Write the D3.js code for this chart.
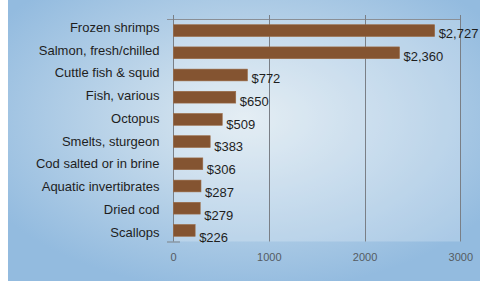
<!DOCTYPE html>
<html>
<head>
<meta charset="utf-8">
<script src="https://d3js.org/d3.v7.min.js"></script>
<style>
  body { margin: 0; background: #fff; }
  svg { display: block; font-family: "Liberation Sans", Arial, sans-serif; }
</style>
</head>
<body>
<script>
// chart data, top to bottom
var categories = ["Frozen shrimps", "Salmon, fresh/chilled", "Cuttle fish & squid",
  "Fish, various", "Octopus", "Smelts, sturgeon", "Cod salted or in brine",
  "Aquatic invertibrates", "Dried cod", "Scallops"];
var values = [2727, 2360, 772, 650, 509, 383, 306, 287, 279, 226];
var xTicks = [0, 1000, 2000, 3000];

var width = 480, height = 282;
var margin = {top: 19.5, right: 19, bottom: 40.5, left: 173};

var data = categories.map(function(c, i) { return {name: c, value: values[i]}; });

var svg = d3.select("body")
  .append("svg")
    .attr("width", width)
    .attr("height", height);

// background gradient
var defs = svg.append("defs");
var grad = defs.append("radialGradient")
    .attr("id", "bg")
    .attr("cx", "50%").attr("cy", "42%").attr("r", "62%");
grad.append("stop").attr("offset", "0%").attr("stop-color", "#dde9f1");
grad.append("stop").attr("offset", "100%").attr("stop-color", "#93bbdf");

svg.append("rect")
    .attr("x", 8).attr("y", 0)
    .attr("width", width - 8).attr("height", height - 1)
    .attr("fill", "url(#bg)");

var x = d3.scaleLinear()
    .domain([0, 3000])
    .range([margin.left, width - margin.right - 0.7]);

var y = d3.scaleBand()
    .domain(categories)
    .range([margin.top, height - margin.bottom])
    .paddingInner(0.47)
    .paddingOuter(0.235);

// the labels sit on a slightly wider pitch than the bars
var labelY = d3.scalePoint()
    .domain(categories)
    .range([27.5, 232]);

// plot area
svg.append("rect")
    .attr("x", x(0))
    .attr("y", margin.top)
    .attr("width", x(3000) - x(0))
    .attr("height", height - margin.bottom - margin.top)
    .attr("fill", "#fff")
    .attr("fill-opacity", 0.22);

// top border
svg.append("line")
    .attr("x1", x(0) - 6).attr("x2", x(3000))
    .attr("y1", margin.top).attr("y2", margin.top)
    .attr("stroke", "#8a8f96");

// bottom tick on the category axis
svg.append("line")
    .attr("x1", x(0) - 6).attr("x2", x(0) + 7)
    .attr("y1", height - margin.bottom + 0.5).attr("y2", height - margin.bottom + 0.5)
    .attr("stroke", "#8a98a6")
    .attr("stroke-width", 1.5);

// vertical grid lines (incl. the category axis at 0)
svg.append("g")
  .selectAll("line.grid")
  .data(xTicks)
  .enter()
  .append("line")
    .attr("class", "grid")
    .attr("x1", function(d) { return Math.round(x(d)) + 0.5; })
    .attr("x2", function(d) { return Math.round(x(d)) + 0.5; })
    .attr("y1", margin.top - 4.5)
    .attr("y2", height - margin.bottom)
    .attr("stroke", "#7a7f86");

// bars
svg.append("g")
  .selectAll("rect.bar")
  .data(data)
  .enter()
  .append("rect")
    .attr("class", "bar")
    .attr("x", x(0) + 0.5)
    .attr("y", function(d) { return y(d.name); })
    .attr("width", function(d) { return x(d.value) - x(0); })
    .attr("height", y.bandwidth())
    .attr("fill", "#845431")
    .attr("stroke", "#9a6a45")
    .attr("stroke-width", 0.6);

// value labels
var fmt = d3.format(",");
svg.append("g")
  .selectAll("text.value")
  .data(data)
  .enter()
  .append("text")
    .attr("class", "value")
    .attr("x", function(d) { return x(d.value) + 4.5; })
    .attr("y", function(d) { return labelY(d.name) + 5.8; })
    .attr("dominant-baseline", "central")
    .attr("font-size", 13)
    .attr("fill", "#1e1e1e")
    .text(function(d) { return "$" + fmt(d.value); });

// category labels
svg.append("g")
  .selectAll("text.cat")
  .data(data)
  .enter()
  .append("text")
    .attr("class", "cat")
    .attr("x", 159.5)
    .attr("y", function(d) { return labelY(d.name); })
    .attr("text-anchor", "end")
    .attr("dominant-baseline", "central")
    .attr("font-size", 13)
    .attr("fill", "#1e1e1e")
    .text(function(d) { return d.name; });

// x axis labels
var xAxis = svg.append("g")
    .attr("transform", "translate(0," + (height - margin.bottom) + ")")
    .call(d3.axisBottom(x).tickValues(xTicks).tickSize(0).tickPadding(12).tickFormat(d3.format("d")));
xAxis.select(".domain").remove();
xAxis.selectAll("text")
    .attr("font-family", "Liberation Sans, Arial, sans-serif")
    .attr("font-size", 11)
    .attr("fill", "#555b62");
</script>
</body>
</html>
